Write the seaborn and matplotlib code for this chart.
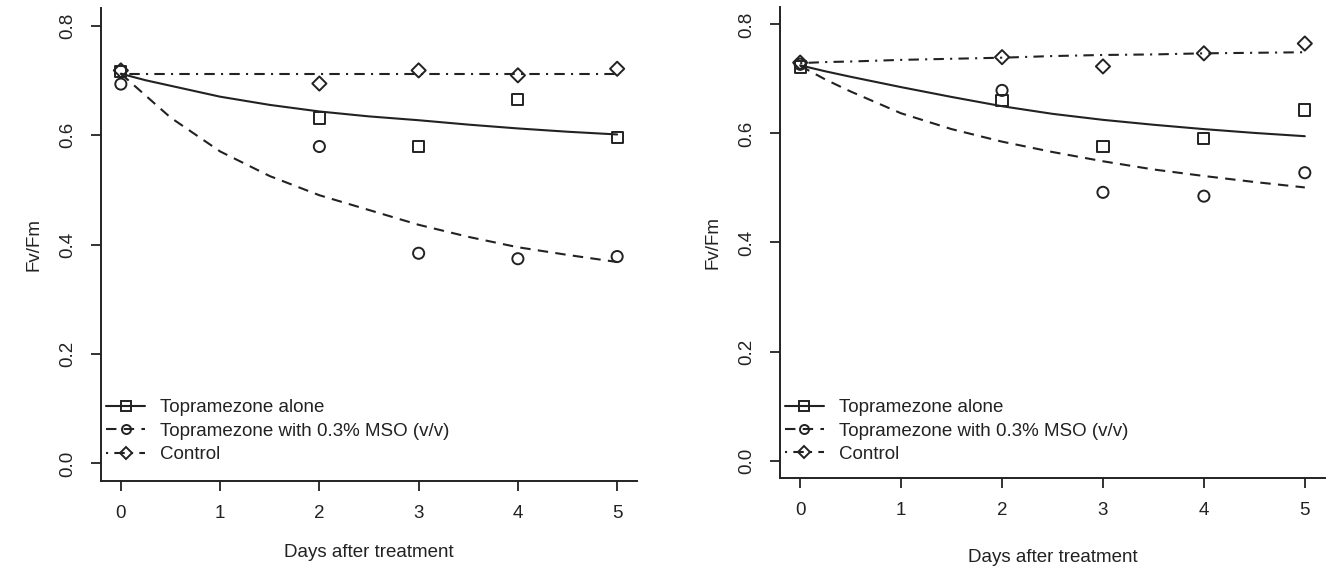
import numpy as np
import pandas as pd
import seaborn as sns
import matplotlib.pyplot as plt
from matplotlib.lines import Line2D

# observed Fv/Fm values (days 0,2,3,4,5)
days = [0, 2, 3, 4, 5]

left_alone = [0.716, 0.631, 0.579, 0.665, 0.596]
left_mso = [0.693, 0.579, 0.384, 0.374, 0.378]
left_control = [0.718, 0.694, 0.718, 0.709, 0.721]

right_alone = [0.722, 0.660, 0.576, 0.590, 0.643]
right_mso = [0.727, 0.679, 0.492, 0.485, 0.528]
right_control = [0.730, 0.740, 0.723, 0.747, 0.765]

# fitted curves
curve_days = [0, 0.25, 0.5, 1, 1.5, 2, 2.5, 3, 3.5, 4, 4.5, 5]

left_alone_fit = [0.712, 0.700, 0.690, 0.670, 0.655, 0.643, 0.634, 0.627, 0.619, 0.612, 0.606, 0.601]
left_mso_fit = [0.712, 0.672, 0.632, 0.570, 0.525, 0.490, 0.463, 0.436, 0.414, 0.395, 0.381, 0.368]
left_control_fit = [0.711, 0.711, 0.711, 0.711, 0.711, 0.711, 0.711, 0.711, 0.711, 0.711, 0.711, 0.711]

right_alone_fit = [0.725, 0.714, 0.704, 0.685, 0.667, 0.650, 0.636, 0.625, 0.616, 0.608, 0.601, 0.595]
right_mso_fit = [0.724, 0.699, 0.677, 0.637, 0.608, 0.585, 0.566, 0.549, 0.534, 0.522, 0.511, 0.501]
right_control_fit = [0.729, 0.731, 0.732, 0.735, 0.737, 0.739, 0.742, 0.744, 0.745, 0.747, 0.748, 0.749]

labels = ["Topramezone alone", "Topramezone with 0.3% MSO (v/v)", "Control"]
markers = ["s", "o", "D"]
styles = ["-", (0, (5, 3.5)), (0, (1, 3, 5, 3))]

sns.set_style("ticks")
plt.rcParams['font.family'] = ['Liberation Sans', 'DejaVu Sans']
ink = "#222222"
fs = 13.5
lw = 1.5

fig = plt.figure(figsize=(13.28, 5.72), dpi=100)
ax1 = fig.add_axes([101 / 1328, 1 - 481 / 572, 536 / 1328, 473 / 572])
ax2 = fig.add_axes([780 / 1328, 1 - 478 / 572, 545 / 1328, 471 / 572])

panels = [
    (ax1, [left_alone, left_mso, left_control], [left_alone_fit, left_mso_fit, left_control_fit], 0.022, 16),
    (ax2, [right_alone, right_mso, right_control], [right_alone_fit, right_mso_fit, right_control_fit], 0.016, 22),
]

for ax, obs, fits, leg_y, xpad in panels:
    for y_obs, y_fit, m, ls in zip(obs, fits, markers, styles):
        sns.lineplot(x=curve_days, y=y_fit, ax=ax, color=ink, linewidth=lw, linestyle=ls)
        sns.scatterplot(x=days, y=y_obs, ax=ax, marker=m, s=64 if m != "D" else 52,
                        facecolor="none", edgecolor=ink, linewidth=1.4, zorder=3)

    ax.set_xlim(-0.2, 5.2)
    ax.set_ylim(-0.032, 0.832)
    ax.set_xticks([0, 1, 2, 3, 4, 5])
    ax.set_yticks([0.0, 0.2, 0.4, 0.6, 0.8])
    ax.set_yticklabels(["0.0", "0.2", "0.4", "0.6", "0.8"])
    ax.tick_params(axis="both", length=7, width=1.3, color=ink, labelcolor=ink, labelsize=fs)
    ax.tick_params(axis="x", pad=10)
    ax.tick_params(axis="y", pad=11)
    for lab in ax.get_yticklabels():
        lab.set_rotation(90)
        lab.set_va("center")
        lab.set_ha("right")
    for side in ["top", "right"]:
        ax.spines[side].set_visible(False)
    for side in ["left", "bottom"]:
        ax.spines[side].set_linewidth(1.4)
        ax.spines[side].set_color(ink)
    ax.set_xlabel("Days after treatment", fontsize=fs, color=ink, labelpad=xpad)
    ax.set_ylabel("Fv/Fm", fontsize=fs, color=ink, labelpad=12)

    handles = [Line2D([], [], color=ink, linestyle=ls, linewidth=lw, marker=m,
                      markerfacecolor="none", markeredgecolor=ink, markersize=6.5 if m != "D" else 6,
                      markeredgewidth=1.4)
               for m, ls in zip(markers, styles)]
    ax.legend(handles, labels, loc="lower left", bbox_to_anchor=(-0.005, leg_y), frameon=False,
              fontsize=fs, handlelength=2.1, handletextpad=0.8, labelspacing=0.33,
              borderaxespad=0.0, labelcolor=ink)

fig.savefig("out.png", dpi=100)
